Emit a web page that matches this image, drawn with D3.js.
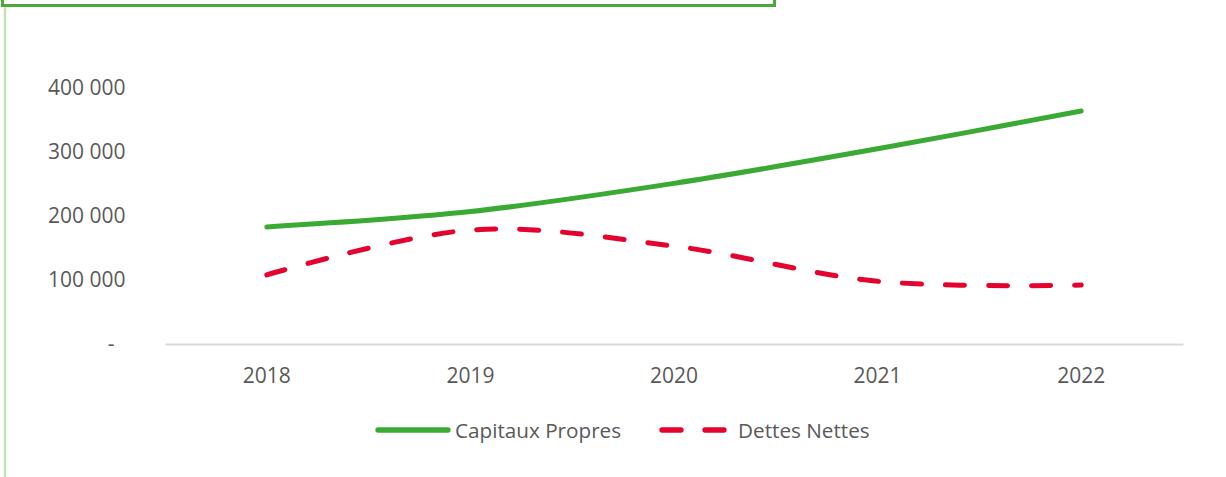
<!DOCTYPE html>
<html>
<head>
<meta charset="utf-8">
<script src="https://cdn.jsdelivr.net/npm/d3@7"></script>
<style>
  body { margin: 0; background: #fff; }
  svg { display: block; }
  .lbl { font-family: "Open Sans", sans-serif; fill: #595959; }
</style>
</head>
<body>
<div id="chart"></div>
<script>
(function() {

  const years = ["2018", "2019", "2020", "2021", "2022"];
  const capitauxPropres = [183000, 207000, 251000, 305000, 364000];
  const dettesNettes = [108000, 178000, 153000, 98000, 92000];
  const yTicks = [0, 100000, 200000, 300000, 400000];
  const seriesNames = ["Capitaux Propres", "Dettes Nettes"];

  const width = 1226, height = 477;
  const green = "#3aaa35", red = "#e4032e";

  const svg = d3.select("#chart").append("svg").attr("width", width).attr("height", height);

  // frame pieces from the surrounding slide
  svg.append("rect").attr("x", 2.5).attr("y", -10).attr("width", 772).attr("height", 15.5)
      .attr("fill", "none").attr("stroke", "#4ca83a").attr("stroke-width", 3);
  svg.append("line").attr("x1", 5).attr("x2", 5).attr("y1", 7).attr("y2", height)
      .attr("stroke", "#c5e0b4").attr("stroke-width", 2.5);

  const x = d3.scaleBand().domain(years).range([165, 1183]);
  const y = d3.scaleLinear().domain([0, 400000]).range([344, 88]);
  const fmt = d3.formatLocale({ decimal: ",", thousands: " ", grouping: [3], currency: ["", ""] }).format(",d");

  // y axis labels
  const yAxis = svg.append("g").attr("transform", "translate(130,0)")
      .call(d3.axisLeft(y).tickValues(yTicks).tickSize(0).tickPadding(4.5)
        .tickFormat(d => d === 0 ? "-" : fmt(d)));
  yAxis.select(".domain").remove();
  yAxis.selectAll("text").attr("class", "lbl").attr("fill", null)
      .style("font-size", "21px")
      .attr("dx", d => d === 0 ? -11 : 0);

  // x axis
  const xAxis = svg.append("g").attr("transform", "translate(0,344)")
      .call(d3.axisBottom(x).tickSize(0).tickSizeOuter(0).tickPadding(24));
  xAxis.select(".domain").attr("stroke", "#d9d9d9").attr("stroke-width", 2);
  xAxis.selectAll("text").attr("class", "lbl").attr("fill", null).style("font-size", "21px");

  const line = d3.line()
      .x((d, i) => x(years[i]) + x.bandwidth() / 2)
      .y(d => y(d))
      .curve(d3.curveCardinal.tension(0));

  svg.append("path").datum(capitauxPropres).attr("d", line)
      .attr("fill", "none").attr("stroke", green).attr("stroke-width", 5)
      .attr("stroke-linecap", "round");
  svg.append("path").datum(dettesNettes).attr("d", line)
      .attr("fill", "none").attr("stroke", red).attr("stroke-width", 5)
      .attr("stroke-linecap", "round").attr("stroke-dasharray", "19,24");

  // legend
  const legend = svg.append("g");
  legend.append("line").attr("x1", 378).attr("x2", 448).attr("y1", 430).attr("y2", 430)
      .attr("stroke", green).attr("stroke-width", 5.3).attr("stroke-linecap", "round");
  legend.append("text").attr("class", "lbl").attr("x", 455).attr("y", 437.5)
      .style("font-size", "20.7px").text(seriesNames[0]);
  legend.append("line").attr("x1", 662).attr("x2", 724).attr("y1", 430).attr("y2", 430)
      .attr("stroke", red).attr("stroke-width", 5.3).attr("stroke-linecap", "round")
      .attr("stroke-dasharray", "19,24");
  legend.append("text").attr("class", "lbl").attr("x", 738).attr("y", 437.5)
      .style("font-size", "20.7px").text(seriesNames[1]);

})();
</script>
</body>
</html>
